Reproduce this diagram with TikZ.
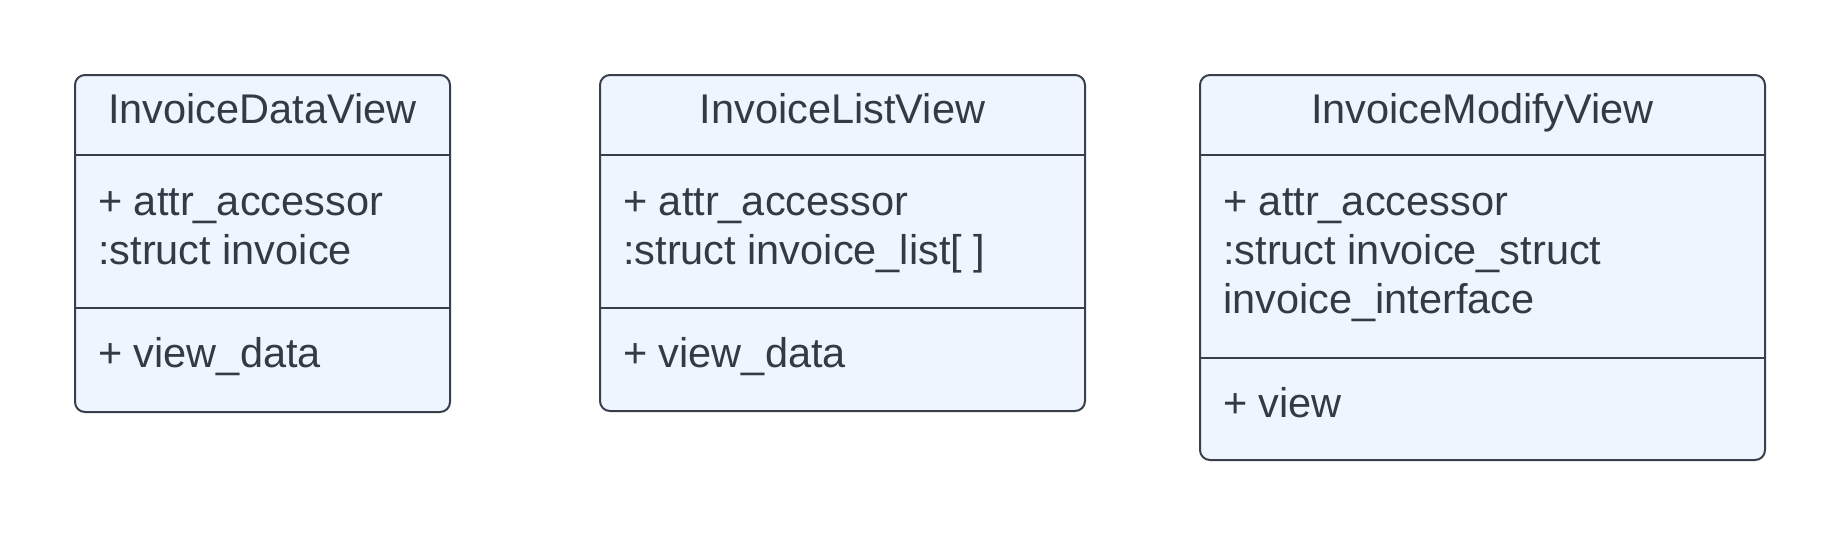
\documentclass[tikz,border=0pt]{standalone}
\usepackage{fontspec}
\setmainfont{Liberation Sans}
\definecolor{boxfill}{RGB}{238,245,255}
\definecolor{boxline}{RGB}{57,63,74}
\definecolor{txt}{RGB}{51,58,70}
\tikzset{
  classbox/.style={draw=boxline, fill=boxfill, line width=2pt, rounded corners=10pt, inner sep=0pt, outer sep=0pt, anchor=north west},
  divider/.style={draw=boxline, line width=2pt},
  title/.style={anchor=base, inner sep=0pt, text=txt, font=\fontsize{41.5}{49}\selectfont},
  member/.style={anchor=base west, inner sep=0pt, text=txt, font=\fontsize{41.5}{49}\selectfont},
}
\begin{document}
\begin{tikzpicture}[x=1pt,y=-1pt]
\useasboundingbox (0,0) rectangle (1839,536);
% Box 1
\node[classbox, minimum width=375pt, minimum height=337pt] (b1) at (75,75) {};
\draw[divider] (b1.west |- 0,155) -- (b1.east |- 0,155);
\draw[divider] (b1.west |- 0,308) -- (b1.east |- 0,308);
\node[title] (t1) at (262.5,123) {InvoiceDataView};
\node[member] (a1a) at (98,215) {+ attr\_accessor};
\node[member] (a1b) at (98,264) {:struct invoice};
\node[member] (m1) at (98,367) {+ view\_data};
% Box 2
\node[classbox, minimum width=485pt, minimum height=336pt] (b2) at (600,75) {};
\draw[divider] (b2.west |- 0,155) -- (b2.east |- 0,155);
\draw[divider] (b2.west |- 0,308) -- (b2.east |- 0,308);
\node[title] (t2) at (842.5,123) {InvoiceListView};
\node[member] (a2a) at (623,215) {+ attr\_accessor};
\node[member] (a2b) at (623,264) {:struct invoice\_list[ ]};
\node[member] (m2) at (623,367) {+ view\_data};
% Box 3
\node[classbox, minimum width=565pt, minimum height=385pt] (b3) at (1200,75) {};
\draw[divider] (b3.west |- 0,155) -- (b3.east |- 0,155);
\draw[divider] (b3.west |- 0,358) -- (b3.east |- 0,358);
\node[title] (t3) at (1482.5,123) {InvoiceModifyView};
\node[member] (a3a) at (1223,215) {+ attr\_accessor};
\node[member] (a3b) at (1223,264) {:struct invoice\_struct};
\node[member] (a3c) at (1223,313.5) {invoice\_interface};
\node[member] (m3) at (1223,417) {+ view};
\end{tikzpicture}
\end{document}
